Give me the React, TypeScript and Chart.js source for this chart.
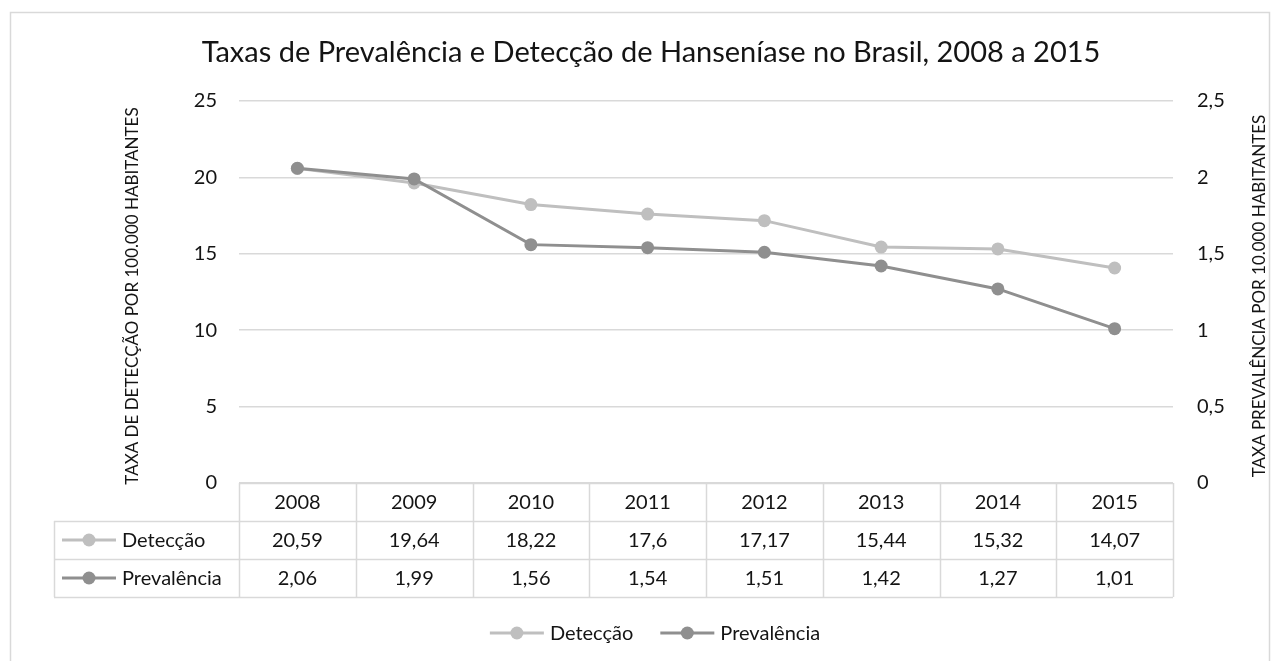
import React, { useEffect, useRef } from 'react';
import { Chart, registerables } from 'chart.js';

Chart.register(...registerables);

const years = ['2008', '2009', '2010', '2011', '2012', '2013', '2014', '2015'];
const deteccao = [20.59, 19.64, 18.22, 17.6, 17.17, 15.44, 15.32, 14.07];
const prevalencia = [2.06, 1.99, 1.56, 1.54, 1.51, 1.42, 1.27, 1.01];
const seriesNames = ['Detecção', 'Prevalência'];
const seriesColors = ['#BFBFBF', '#8F8F8F'];
const chartTitle = 'Taxas de Prevalência e Detecção de Hanseníase no Brasil, 2008 a 2015';
const leftAxisTitle = 'TAXA DE DETECÇÃO POR 100.000 HABITANTES';
const rightAxisTitle = 'TAXA PREVALÊNCIA POR 10.000 HABITANTES';

const FONT = 'Lato, "Noto Sans", sans-serif';
const TEXT = '#141414';
const GRID = '#D9D9D9';

const fmt = (v: number) => String(Math.round(v * 100) / 100).replace('.', ',');

const decorPlugin = {
  id: 'decor',
  afterDraw(chart: any) {
    const ctx = chart.ctx as CanvasRenderingContext2D;
    const area = chart.chartArea;
    const xs = chart.scales.x;
    const n = years.length;
    const colW = (area.right - area.left) / n;
    ctx.save();

    // outer border
    ctx.strokeStyle = GRID;
    ctx.lineWidth = 1.5;
    ctx.strokeRect(10.5, 12.5, 1259, 700);

    // title
    ctx.fillStyle = TEXT;
    ctx.font = `29px ${FONT}`;
    ctx.textAlign = 'center';
    ctx.textBaseline = 'alphabetic';
    ctx.fillText(chartTitle, 651, 62);

    // axis titles
    const midY = (area.top + area.bottom) / 2 + 4;
    ctx.font = `17px ${FONT}`;
    ctx.textBaseline = 'middle';
    ctx.save();
    ctx.translate(133, midY);
    ctx.rotate(-Math.PI / 2);
    ctx.fillText(leftAxisTitle, 0, 0);
    ctx.restore();
    ctx.save();
    ctx.translate(1260, midY);
    ctx.rotate(-Math.PI / 2);
    ctx.fillText(rightAxisTitle, 0, 0);
    ctx.restore();

    // data table
    const rowH = 38;
    const top = area.bottom;
    const tableLeft = 54;
    ctx.strokeStyle = GRID;
    ctx.lineWidth = 1.5;
    ctx.beginPath();
    for (let r = 0; r <= 3; r++) {
      const y = Math.round(top + r * rowH) + 0.5;
      ctx.moveTo(r === 0 ? area.left : tableLeft, y);
      ctx.lineTo(area.right, y);
    }
    for (let i = 0; i <= n; i++) {
      const x = Math.round(area.left + i * colW) + 0.5;
      ctx.moveTo(x, top);
      ctx.lineTo(x, top + 3 * rowH);
    }
    ctx.moveTo(tableLeft + 0.5, top + rowH);
    ctx.lineTo(tableLeft + 0.5, top + 3 * rowH);
    ctx.stroke();

    ctx.fillStyle = TEXT;
    ctx.font = `20px ${FONT}`;
    ctx.textAlign = 'center';
    ctx.textBaseline = 'middle';
    const rows = [deteccao, prevalencia];
    for (let i = 0; i < n; i++) {
      const cx = xs.getPixelForValue(i);
      ctx.fillText(years[i], cx, top + rowH * 0.5 + 1);
      rows.forEach((vals, r) => {
        ctx.fillText(fmt(vals[i]), cx, top + rowH * (r + 1.5) + 1);
      });
    }

    const drawIcon = (x0: number, y: number, color: string) => {
      ctx.strokeStyle = color;
      ctx.lineWidth = 3;
      ctx.beginPath();
      ctx.moveTo(x0, y);
      ctx.lineTo(x0 + 54, y);
      ctx.stroke();
      ctx.fillStyle = color;
      ctx.beginPath();
      ctx.arc(x0 + 27, y, 6.5, 0, Math.PI * 2);
      ctx.fill();
    };

    seriesNames.forEach((name, r) => {
      const y = top + rowH * (r + 1.5);
      drawIcon(62, y, seriesColors[r]);
      ctx.fillStyle = TEXT;
      ctx.textAlign = 'left';
      ctx.fillText(name, 122, y + 1);
    });

    // bottom legend
    ctx.font = `20px ${FONT}`;
    const widths = seriesNames.map((s) => ctx.measureText(s).width);
    const gap = 27;
    const total = widths.reduce((a, w) => a + 60 + w, 0) + gap;
    let x = 655 - total / 2;
    const ly = 633;
    seriesNames.forEach((name, r) => {
      drawIcon(x, ly, seriesColors[r]);
      ctx.fillStyle = TEXT;
      ctx.textAlign = 'left';
      ctx.textBaseline = 'middle';
      ctx.fillText(name, x + 60, ly + 1);
      x += 60 + widths[r] + gap;
    });

    ctx.restore();
  },
};

export default function App() {
  const ref = useRef<HTMLCanvasElement | null>(null);

  useEffect(() => {
    document.body.style.margin = '0';
    if (!ref.current) return;
    const chart = new Chart(ref.current, {
      type: 'line',
      data: {
        labels: years,
        datasets: [
          {
            label: seriesNames[0],
            data: deteccao,
            yAxisID: 'y',
            borderColor: seriesColors[0],
            backgroundColor: seriesColors[0],
            pointBackgroundColor: seriesColors[0],
            pointBorderWidth: 0,
            pointRadius: 6.5,
            borderWidth: 3,
            order: 2,
          },
          {
            label: seriesNames[1],
            data: prevalencia,
            yAxisID: 'y1',
            borderColor: seriesColors[1],
            backgroundColor: seriesColors[1],
            pointBackgroundColor: seriesColors[1],
            pointBorderWidth: 0,
            pointRadius: 6.5,
            borderWidth: 3,
            order: 1,
          },
        ],
      },
      options: {
        animation: false,
        responsive: false,
        devicePixelRatio: 1,
        layout: { padding: { top: 101, bottom: 178, left: 0, right: 0 } },
        plugins: {
          legend: { display: false },
          title: { display: false },
          tooltip: { enabled: false },
        },
        scales: {
          x: {
            type: 'category',
            display: false,
            offset: true,
          },
          y: {
            position: 'left',
            min: 0,
            max: 25,
            ticks: {
              stepSize: 5,
              padding: 22,
              color: TEXT,
              font: { family: FONT, size: 20 },
            },
            grid: { color: GRID, lineWidth: 1.5, drawTicks: false },
            border: { display: false },
            afterFit: (s: any) => {
              s.width = 239;
            },
          },
          y1: {
            position: 'right',
            min: 0,
            max: 2.5,
            ticks: {
              stepSize: 0.5,
              padding: 24,
              color: TEXT,
              font: { family: FONT, size: 20 },
              callback: (v: any) => String(Math.round(Number(v) * 10) / 10).replace('.', ','),
            },
            grid: { drawOnChartArea: false, drawTicks: false },
            border: { display: false },
            afterFit: (s: any) => {
              s.width = 107;
            },
          },
        },
      },
      plugins: [decorPlugin],
    } as any);
    return () => chart.destroy();
  }, []);

  return (
    <div style={{ width: 1280, height: 661, background: '#fff' }}>
      <canvas ref={ref} width={1280} height={661} style={{ display: 'block' }} />
    </div>
  );
}
